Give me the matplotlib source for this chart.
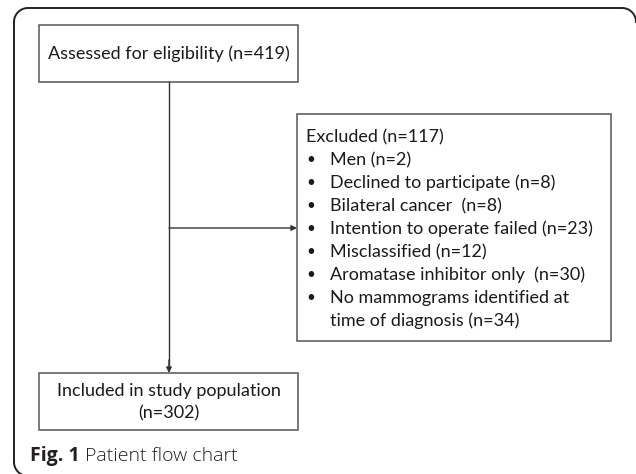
import numpy as np
import matplotlib.pyplot as plt
from matplotlib.patches import Rectangle

# flow chart content
top_label = "Assessed for eligibility"
top_n = 419
excl_n = 117
excl_items = ["Men (n=2)",
              "Declined to participate (n=8)",
              "Bilateral cancer  (n=8)",
              "Intention to operate failed (n=23)",
              "Misclassified (n=12)",
              "Aromatase inhibitor only  (n=30)",
              "No mammograms identified at\ntime of diagnosis (n=34)"]
incl_label = "Included in study population"
incl_n = 302
caption_bold = "Fig. 1"
caption_text = "Patient flow chart"

plt.rcParams['font.family'] = ['Lato', 'DejaVu Sans']

fig = plt.figure(figsize=(6.36, 4.74), dpi=100)
ax = fig.add_axes([0, 0, 1, 1])
ax.set_xlim(0, 636)
ax.set_ylim(474, 0)
ax.axis('off')

box_col = '#555555'
txt_col = '#1a1a1a'
fs = 13

# outer frame: only the top, left and the corners fall inside the image
r = 14
def arc(cx, cy, a0, a1):
    a = np.radians(np.linspace(a0, a1, 30))
    return cx + r*np.cos(a), cy + r*np.sin(a)
fx, fy = [], []
x, y = arc(14 + r, 474, 180, 180)  # start point of left edge bottom
ax.plot(*arc(14 + r, 462 - 0, 90, 180), color='#222222', lw=1.4, clip_on=True)
ax.plot([14, 14], [8 + r, 462], color='#222222', lw=1.4)
ax.plot(*arc(14 + r, 8 + r, 180, 270), color='#222222', lw=1.4)
ax.plot([14 + r, 622], [8, 8], color='#222222', lw=1.4)
ax.plot(*arc(622, 8 + r, 270, 360), color='#222222', lw=1.4)

# boxes
ax.add_patch(Rectangle((39, 25), 259, 57, fill=False, ec=box_col, lw=1.1))
ax.text(168.5, 53.5, "%s (n=%d)" % (top_label, top_n), ha='center', va='center',
        fontsize=fs, color=txt_col)

ax.add_patch(Rectangle((297, 114), 314, 227, fill=False, ec=box_col, lw=1.1))
ax.text(306, 137, "Excluded (n=%d)" % excl_n, ha='left', va='center',
        fontsize=fs, color=txt_col)
y = 160
for item in excl_items:
    ax.text(311, y, u"\u2022", ha='center', va='center', fontsize=11, color=txt_col)
    for line in item.split("\n"):
        ax.text(330, y, line, ha='left', va='center', fontsize=fs, color=txt_col)
        y += 23

ax.add_patch(Rectangle((39, 373), 259, 57, fill=False, ec=box_col, lw=1.1))
ax.text(168.5, 391, incl_label, ha='center', va='center', fontsize=fs, color=txt_col)
ax.text(168.5, 413, "(n=%d)" % incl_n, ha='center', va='center', fontsize=fs, color=txt_col)

# connectors
ax.plot([169, 169], [82, 368], color='#333333', lw=1.0)
ax.annotate("", xy=(169, 373), xytext=(169, 360),
            arrowprops=dict(arrowstyle='-|>', color='#333333', lw=1.0,
                            mutation_scale=8, shrinkA=0, shrinkB=0))
ax.annotate("", xy=(297, 228), xytext=(169, 228),
            arrowprops=dict(arrowstyle='-|>', color='#333333', lw=1.0,
                            mutation_scale=8, shrinkA=0, shrinkB=0))

# caption
t = ax.text(30, 456, caption_bold + " ", ha='left', va='center', fontsize=14,
            fontweight='bold', color='#231f20', family=['Open Sans', 'DejaVu Sans'])
fig.canvas.draw()
bb = t.get_window_extent().transformed(ax.transData.inverted())
ax.text(bb.x1, 456, caption_text, ha='left', va='center', fontsize=14,
        color='#231f20', family=['Open Sans', 'DejaVu Sans'], fontweight='light')

fig.savefig('out.png', dpi=100)
